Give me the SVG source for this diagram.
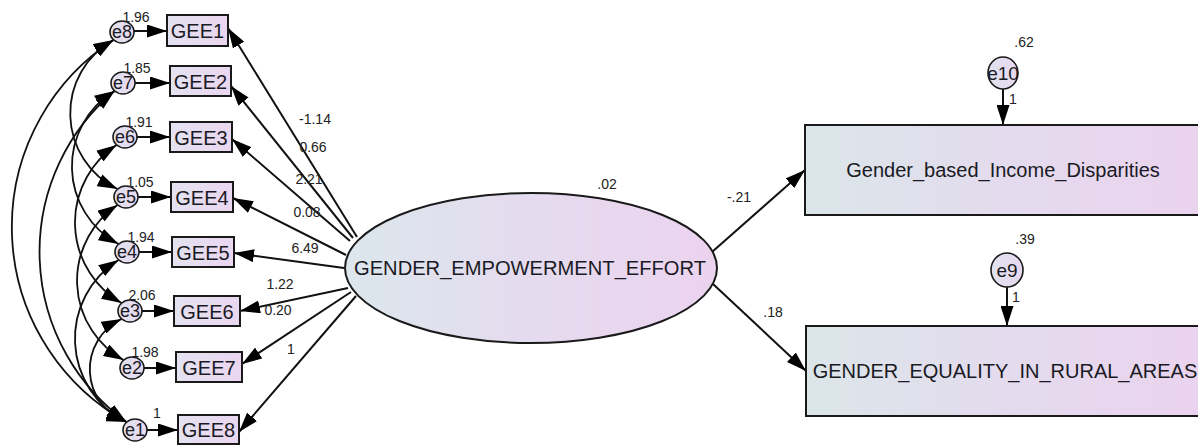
<svg xmlns="http://www.w3.org/2000/svg" width="1198" height="448" viewBox="0 0 1198 448">
<style>
.lbl{font-family:"Liberation Sans",Arial,sans-serif;fill:#1a1a24}
.num{font-family:"Liberation Sans",Arial,sans-serif;font-size:14px;fill:#222;text-anchor:middle}
.box{stroke:#1a1a1a;stroke-width:2}
.err{fill:url(#gErr);stroke:#1a1a1a;stroke-width:1.6}
.con{fill:none;stroke:#111;stroke-width:2}
.arc{fill:none;stroke:#111;stroke-width:1.8;marker-start:url(#ah);marker-end:url(#ah)}
.one{marker-end:url(#ah)}
</style>
<defs>
<linearGradient id="gBox" x1="0" y1="0" x2="1" y2="0"><stop offset="0" stop-color="#e4e2f0"/><stop offset="1" stop-color="#ead6f0"/></linearGradient>
<linearGradient id="gErr" x1="0" y1="0" x2="1" y2="0"><stop offset="0" stop-color="#dfe2ef"/><stop offset="1" stop-color="#e9d8ef"/></linearGradient>
<linearGradient id="gEll" x1="0" y1="0" x2="1" y2="0"><stop offset="0" stop-color="#dce7ec"/><stop offset="0.5" stop-color="#e5dbef"/><stop offset="1" stop-color="#ecd3ef"/></linearGradient>
<linearGradient id="gBig" x1="0" y1="0" x2="1" y2="0"><stop offset="0" stop-color="#dbe6e9"/><stop offset="0.5" stop-color="#e4dbee"/><stop offset="1" stop-color="#ebd2ee"/></linearGradient>
<marker id="ah" viewBox="0 0 20 13" refX="20" refY="6.5" markerWidth="20" markerHeight="13" markerUnits="userSpaceOnUse" orient="auto-start-reverse"><path d="M0,0 L20,6.5 L0,13 z" fill="#000"/></marker>
</defs>

<g id="connectors">
<path class="arc" d="M113.5,40 A223,223 0 0 0 126.5,422"/>
<path class="arc" d="M114.5,91 A210,210 0 0 0 126.5,422"/>
<path class="arc" d="M113.5,40 A84,84 0 0 0 117.5,189"/>
<path class="arc" d="M114.5,91 A88,88 0 0 0 118.5,244"/>
<path class="arc" d="M116.5,145 A93,93 0 0 0 121.5,303"/>
<path class="arc" d="M117.5,205 A91,91 0 0 0 123.5,360"/>
<path class="arc" d="M118.5,260 A93,93 0 0 0 126.5,422"/>
<path class="arc" d="M121.5,319 A56,56 0 0 0 126.5,422"/>
<line class="con one" x1="134" y1="31" x2="167" y2="31"/>
<line class="con one" x1="135" y1="83" x2="170" y2="83"/>
<line class="con one" x1="137" y1="137" x2="170" y2="137"/>
<line class="con one" x1="138" y1="197" x2="171" y2="197"/>
<line class="con one" x1="139" y1="252" x2="172" y2="252"/>
<line class="con one" x1="142" y1="311" x2="174" y2="311"/>
<line class="con one" x1="144" y1="368" x2="176" y2="368"/>
<line class="con one" x1="147" y1="430" x2="178" y2="430"/>
<line class="con one" x1="357" y1="237" x2="228" y2="28"/>
<line class="con one" x1="353" y1="238" x2="231" y2="86"/>
<line class="con one" x1="350" y1="241" x2="232" y2="139"/>
<line class="con one" x1="346" y1="255" x2="233" y2="198"/>
<line class="con one" x1="344" y1="268" x2="234" y2="253"/>
<line class="con one" x1="348" y1="288" x2="240" y2="311"/>
<line class="con one" x1="351" y1="292" x2="242" y2="364"/>
<line class="con one" x1="356" y1="296" x2="239" y2="432"/>
<line class="con one" x1="712" y1="252" x2="805" y2="170"/>
<line class="con one" x1="713" y1="284" x2="806" y2="371"/>
<line class="con one" x1="1003" y1="89" x2="1003" y2="125"/>
<line class="con one" x1="1007" y1="287" x2="1007" y2="326"/>
</g>

<g id="labels">
<text class="num" x="315" y="124">-1.14</text>
<text class="num" x="313" y="152">0.66</text>
<text class="num" x="309" y="184">2.21</text>
<text class="num" x="307" y="217">0.08</text>
<text class="num" x="305" y="253">6.49</text>
<text class="num" x="280" y="289">1.22</text>
<text class="num" x="278" y="315">0.20</text>
<text class="num" x="291" y="354">1</text>
<text class="num" x="607" y="189">.02</text>
<text class="num" x="739" y="202">-.21</text>
<text class="num" x="773" y="317">.18</text>
<text class="num" x="1024" y="47">.62</text>
<text class="num" x="1013" y="104">1</text>
<text class="num" x="1025" y="244">.39</text>
<text class="num" x="1016" y="302">1</text>
</g>

<g id="e8"><ellipse class="err" cx="122" cy="32" rx="12" ry="11"/><text class="lbl" x="122" y="38" font-size="18" text-anchor="middle">e8</text><text class="num" x="136" y="22">1.96</text></g>
<g id="e7"><ellipse class="err" cx="123" cy="83" rx="12" ry="11"/><text class="lbl" x="123" y="89" font-size="18" text-anchor="middle">e7</text><text class="num" x="137" y="73">1.85</text></g>
<g id="e6"><ellipse class="err" cx="125" cy="137" rx="12" ry="11"/><text class="lbl" x="125" y="143" font-size="18" text-anchor="middle">e6</text><text class="num" x="139" y="127">1.91</text></g>
<g id="e5"><ellipse class="err" cx="126" cy="197" rx="12" ry="11"/><text class="lbl" x="126" y="203" font-size="18" text-anchor="middle">e5</text><text class="num" x="140" y="187">1.05</text></g>
<g id="e4"><ellipse class="err" cx="127" cy="252" rx="12" ry="11"/><text class="lbl" x="127" y="258" font-size="18" text-anchor="middle">e4</text><text class="num" x="141" y="242">1.94</text></g>
<g id="e3"><ellipse class="err" cx="130" cy="311" rx="12" ry="11"/><text class="lbl" x="130" y="317" font-size="18" text-anchor="middle">e3</text><text class="num" x="142" y="300">2.06</text></g>
<g id="e2"><ellipse class="err" cx="132" cy="368" rx="12" ry="11"/><text class="lbl" x="132" y="374" font-size="18" text-anchor="middle">e2</text><text class="num" x="145" y="357">1.98</text></g>
<g id="e1"><ellipse class="err" cx="135" cy="430" rx="12" ry="11"/><text class="lbl" x="135" y="436" font-size="18" text-anchor="middle">e1</text><text class="num" x="157" y="418">1</text></g>

<g id="GEE1"><rect class="box" x="167" y="15" width="61" height="31" fill="url(#gBox)"/><text class="lbl" x="197.5" y="37.5" font-size="20" text-anchor="middle">GEE1</text></g>
<g id="GEE2"><rect class="box" x="170" y="66" width="61" height="30" fill="url(#gBox)"/><text class="lbl" x="200.5" y="88.5" font-size="20" text-anchor="middle">GEE2</text></g>
<g id="GEE3"><rect class="box" x="170" y="122" width="62" height="30" fill="url(#gBox)"/><text class="lbl" x="201" y="144.5" font-size="20" text-anchor="middle">GEE3</text></g>
<g id="GEE4"><rect class="box" x="171" y="182" width="62" height="30" fill="url(#gBox)"/><text class="lbl" x="202" y="204.5" font-size="20" text-anchor="middle">GEE4</text></g>
<g id="GEE5"><rect class="box" x="172" y="237" width="62" height="30" fill="url(#gBox)"/><text class="lbl" x="203" y="259.5" font-size="20" text-anchor="middle">GEE5</text></g>
<g id="GEE6"><rect class="box" x="174" y="296" width="66" height="30" fill="url(#gBox)"/><text class="lbl" x="207" y="318.5" font-size="20" text-anchor="middle">GEE6</text></g>
<g id="GEE7"><rect class="box" x="176" y="352" width="66" height="30" fill="url(#gBox)"/><text class="lbl" x="209" y="374.5" font-size="20" text-anchor="middle">GEE7</text></g>
<g id="GEE8"><rect class="box" x="178" y="415" width="61" height="29" fill="url(#gBox)"/><text class="lbl" x="208.5" y="436.5" font-size="20" text-anchor="middle">GEE8</text></g>

<g id="GENDER_EMPOWERMENT_EFFORT"><ellipse cx="531" cy="268" rx="186" ry="75" fill="url(#gEll)" stroke="#1a1a1a" stroke-width="2"/><text class="lbl" x="530" y="275" font-size="20" text-anchor="middle" textLength="352" lengthAdjust="spacingAndGlyphs">GENDER_EMPOWERMENT_EFFORT</text></g>

<g id="Gender_based_Income_Disparities"><rect class="box" x="805" y="125" width="410" height="90" fill="url(#gBig)"/><text class="lbl" x="1003" y="177" font-size="20" text-anchor="middle">Gender_based_Income_Disparities</text></g>
<g id="GENDER_EQUALITY_IN_RURAL_AREAS"><rect class="box" x="806" y="326" width="410" height="90" fill="url(#gBig)"/><text class="lbl" x="1005" y="378" font-size="20" text-anchor="middle">GENDER_EQUALITY_IN_RURAL_AREAS</text></g>

<g id="e10"><ellipse class="err" cx="1003" cy="73" rx="15" ry="16"/><text class="lbl" x="1003" y="80" font-size="19" text-anchor="middle">e10</text></g>
<g id="e9"><ellipse class="err" cx="1007" cy="270" rx="16" ry="17"/><text class="lbl" x="1007" y="277" font-size="19" text-anchor="middle">e9</text></g>
</svg>
